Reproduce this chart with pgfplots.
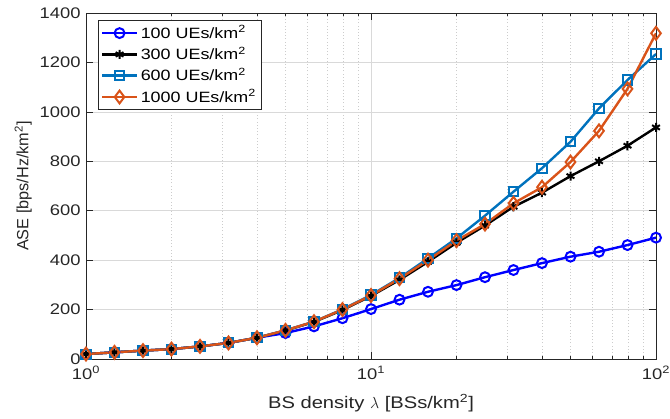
\documentclass[border=0pt]{standalone}
\usepackage{fontspec}
\setmainfont[FakeStretch=1.2]{Liberation Sans}
\newfontfamily\ylabfont{Liberation Sans}
\usepackage{pgfplots}
\pgfplotsset{compat=1.18}
\definecolor{mblue}{RGB}{0,114,189}
\definecolor{morange}{RGB}{217,83,25}
\definecolor{axgray}{RGB}{38,38,38}
\begin{document}
\fontsize{11.5}{13}\selectfont
\begin{tikzpicture}
\begin{axis}[
  name=ax,
  scale only axis,
  width=427.5pt, height=259.5pt,
  xmode=log,
  xmin=1, xmax=100, ymin=0, ymax=1400,
  ytick={0,200,400,600,800,1000,1200,1400},
  xtick={1,10,100},
  xticklabels={10\textsuperscript{0},10\textsuperscript{1},10\textsuperscript{2}},
  /pgf/number format/assume math mode=true,
  yticklabel style={/pgf/number format/1000 sep={}},
  xticklabel style={yshift=-1.5pt},
  tick align=inside,
  tick pos=both,
  axis line style={axgray, line width=0.6pt},
  tick style={axgray, line width=0.5pt},
  major tick length=5pt, minor tick length=2.5pt,
  xmajorgrids, ymajorgrids, xminorgrids,
  major grid style={gray!30, line width=0.5pt},
  minor grid style={gray!40, dotted, line width=0.5pt},
  ticklabel style={font=\fontsize{11.5}{13}\selectfont, text=axgray},
  xlabel={BS density $\lambda$ [BSs/km\textsuperscript{2}]},
  ylabel={ASE [bps/Hz/km\textsuperscript{2}]},
  xlabel style={font=\fontsize{12.6}{14}\selectfont, text=axgray, at={(axis description cs:0.5,-0.127)}, anchor=center},
  ylabel style={font=\ylabfont\fontsize{12.2}{14}\selectfont, text=axgray, at={(axis description cs:-0.110,0.5)}, anchor=center},
  legend style={at={(0.021,0.980)}, anchor=north west, draw=axgray, line width=0.6pt,
    font=\fontsize{11.2}{12.5}\selectfont, row sep=0.8pt, inner sep=2pt},
  legend cell align=left,
  legend image code/.code={\draw[#1] (0pt,0pt) -- (26pt,0pt); \draw[#1, mark repeat=1] plot coordinates {(13pt,0pt)};},
  every axis plot/.append style={line width=1.8pt, mark size=3.7pt, mark options={solid, line width=1.5pt, fill=none}},
]
\addplot[blue, mark=o] coordinates {
(1,20) (1.2589,27) (1.5849,34) (1.9953,40) (2.5119,51) (3.1623,65) (3.9811,86) (5.0119,105) (6.3096,132) (7.9433,165)
(10,202) (12.589,240) (15.849,272) (19.953,299) (25.119,331) (31.623,360) (39.811,388) (50.119,414) (63.096,434) (79.433,461) (100,491)};
\addlegendentry{100 UEs/km\textsuperscript{2}}
\addplot[black, mark=asterisk, mark size=3.4pt] coordinates {
(1,20) (1.2589,27) (1.5849,34) (1.9953,40) (2.5119,51) (3.1623,65) (3.9811,86) (5.0119,115) (6.3096,150) (7.9433,198)
(10,255) (12.589,320) (15.849,393) (19.953,470) (25.119,540) (31.623,616) (39.811,673) (50.119,740) (63.096,800) (79.433,863) (100,937)};
\addlegendentry{300 UEs/km\textsuperscript{2}}
\addplot[mblue, mark=square, mark size=3.4pt] coordinates {
(1,20) (1.2589,27) (1.5849,34) (1.9953,40) (2.5119,51) (3.1623,65) (3.9811,86) (5.0119,116) (6.3096,151) (7.9433,201)
(10,259) (12.589,328) (15.849,407) (19.953,488) (25.119,580) (31.623,677) (39.811,772) (50.119,879) (63.096,1014) (79.433,1129) (100,1234)};
\addlegendentry{600 UEs/km\textsuperscript{2}}
\addplot[morange, mark=diamond, mark size=4.8pt] coordinates {
(1,20) (1.2589,27) (1.5849,34) (1.9953,40) (2.5119,51) (3.1623,65) (3.9811,86) (5.0119,116) (6.3096,151) (7.9433,200)
(10,257) (12.589,325) (15.849,400) (19.953,479) (25.119,546) (31.623,630) (39.811,695) (50.119,797) (63.096,923) (79.433,1093) (100,1318)};
\addlegendentry{1000 UEs/km\textsuperscript{2}}
\end{axis}
\pgfresetboundingbox
\path ([shift={(-64.5pt,-44.25pt)}]ax.south west) rectangle ([shift={(10.5pt,9.75pt)}]ax.north east);
\end{tikzpicture}
\end{document}
